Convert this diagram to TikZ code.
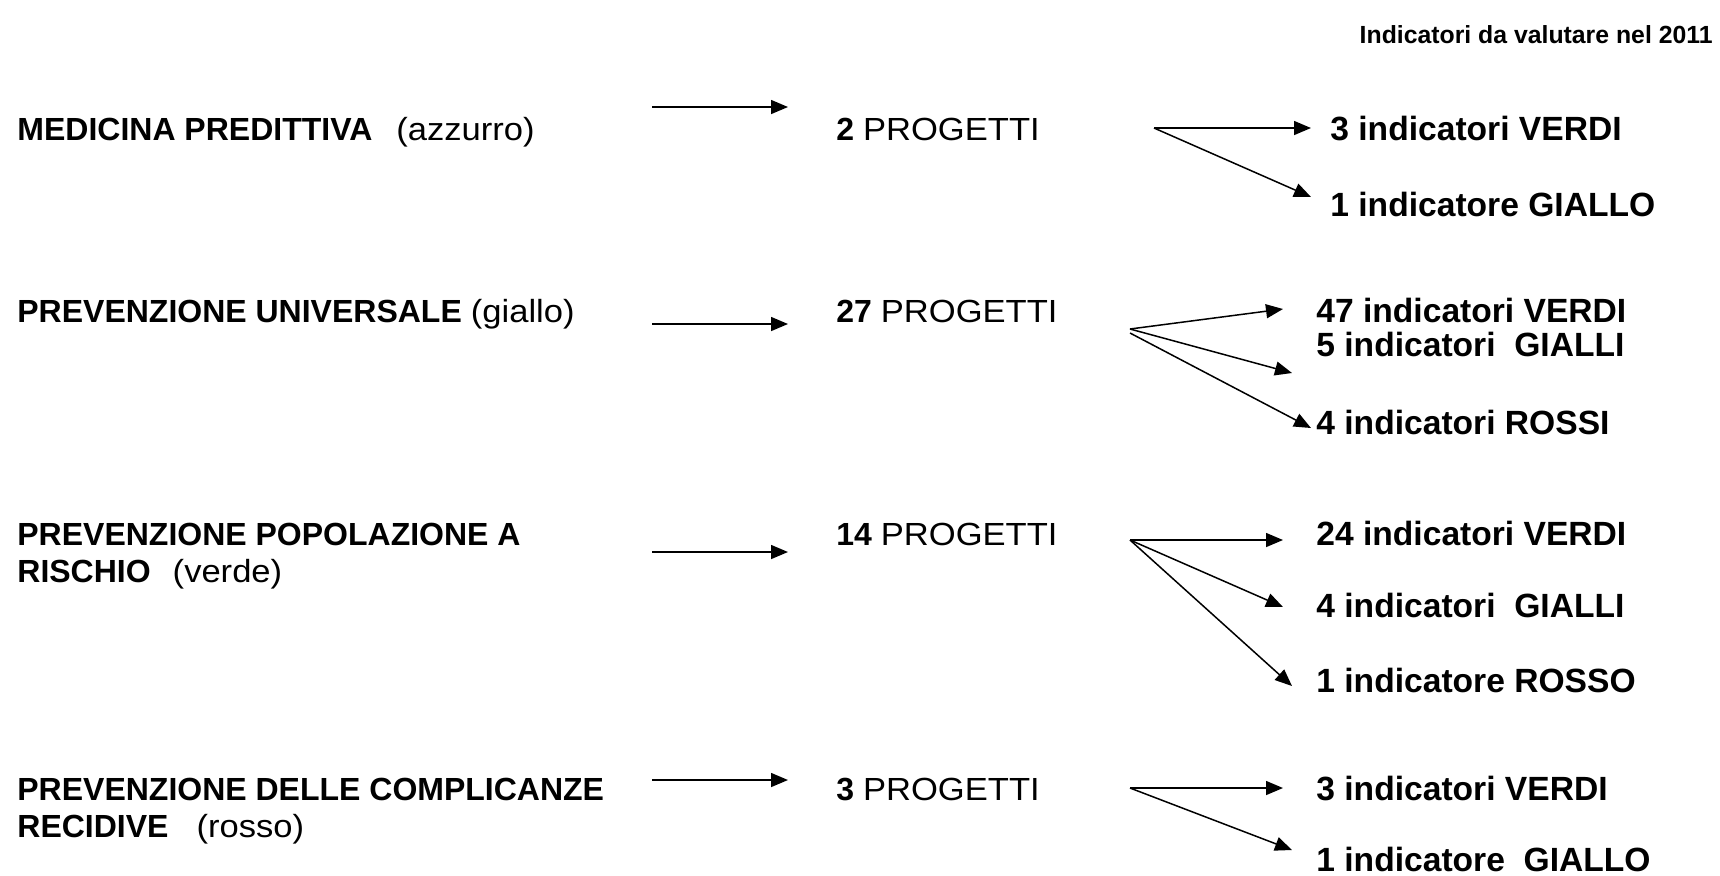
\documentclass[tikz,border=0pt]{standalone}
\usepackage{fontspec}
\setmainfont{Liberation Sans}
\newfontfamily\largo{Liberation Sans}[FakeStretch=1.08]
\usetikzlibrary{arrows.meta}

\tikzset{
  freccia/.style={line width=0.75pt,-{Triangle[length=8.5pt,width=7pt]}},
  testo/.style={anchor=base west,inner sep=0pt,font=\fontsize{16}{19}\selectfont},
  indic/.style={anchor=base west,inner sep=0pt,font=\fontsize{16.8}{20}\selectfont\bfseries},
}

\begin{document}
\begin{tikzpicture}[x=0.5pt,y=0.5pt,yscale=-1,xscale=1]
\useasboundingbox (0,0) rectangle (1720,875);

% Text Node
\node [anchor=base east,inner sep=0pt,font=\fontsize{12.4}{15}\selectfont\bfseries] (titolo) at (1713,43) {Indicatori da valutare nel 2011};

% Text Node
\node [testo] (medicina) at (17,140) {\textbf{MEDICINA PREDITTIVA}\hspace{12pt}{\largo (azzurro)}};
% Text Node
\node [testo] (universale) at (17,322) {\textbf{PREVENZIONE UNIVERSALE}\hspace{4.5pt}{\largo (giallo)}};
% Text Node
\node [testo] (popolazione) at (17,545) {\textbf{PREVENZIONE POPOLAZIONE A}};
\node [testo] (rischio) at (17,582) {\textbf{RISCHIO}\hspace{11pt}{\largo (verde)}};
% Text Node
\node [testo] (complicanze) at (17,800) {\textbf{PREVENZIONE DELLE COMPLICANZE}};
\node [testo] (recidive) at (17,837) {\textbf{RECIDIVE}\hspace{14pt}{\largo (rosso)}};

% Text Node
\node [testo] (prog2) at (836,140) {\textbf{2} \largo PROGETTI};
\node [testo] (prog27) at (836,322) {\textbf{27} \largo PROGETTI};
\node [testo] (prog14) at (836,545) {\textbf{14} \largo PROGETTI};
\node [testo] (prog3) at (836,800) {\textbf{3} \largo PROGETTI};

% Text Node
\node [indic] (verdiA) at (1330,140) {3 indicatori VERDI};
\node [indic] (gialloA) at (1330,216) {1 indicatore GIALLO};
% Text Node
\node [indic] (verdiB) at (1316,322) {47 indicatori VERDI};
\node [indic] (gialliB) at (1316,356) {5 indicatori\ \ GIALLI};
\node [indic] (rossiB) at (1316,434) {4 indicatori ROSSI};
% Text Node
\node [indic] (verdiC) at (1316,545) {24 indicatori VERDI};
\node [indic] (gialliC) at (1316,617) {4 indicatori\ \ GIALLI};
\node [indic] (rossoC) at (1316,692) {1 indicatore ROSSO};
% Text Node
\node [indic] (verdiD) at (1316,800) {3 indicatori VERDI};
\node [indic] (gialloD) at (1316,871) {1 indicatore\ \ GIALLO};

% Straight Lines
\coordinate (a1) at (652,107); \coordinate (b1) at (788,107);
\coordinate (a2) at (652,324); \coordinate (b2) at (788,324);
\coordinate (a3) at (652,552); \coordinate (b3) at (788,552);
\coordinate (a4) at (652,780); \coordinate (b4) at (788,780);
\foreach \i in {1,...,4} {
  \draw [freccia] (a\i) -- (b\i);
}

% Straight Lines
\coordinate (o1) at (1154,128);
\coordinate (t1v) at (1311,128); \coordinate (t1g) at (1311,197);
\draw [freccia] (o1) -- (t1v);
\draw [freccia] (o1) -- (t1g);

% Straight Lines
\coordinate (o2) at (1130,329); \coordinate (o2b) at (1130,333);
\coordinate (t2v) at (1283,309); \coordinate (t2g) at (1292,373); \coordinate (t2r) at (1311,428);
\draw [freccia] (o2) -- (t2v);
\draw [freccia] (o2) -- (t2g);
\draw [freccia] (o2b) -- (t2r);

% Straight Lines
\coordinate (o3) at (1130,540);
\coordinate (t3v) at (1283,540); \coordinate (t3g) at (1283,607); \coordinate (t3r) at (1292,686);
\draw [freccia] (o3) -- (t3v);
\draw [freccia] (o3) -- (t3g);
\draw [freccia] (o3) -- (t3r);

% Straight Lines
\coordinate (o4) at (1130,788);
\coordinate (t4v) at (1283,788); \coordinate (t4g) at (1292,850);
\draw [freccia] (o4) -- (t4v);
\draw [freccia] (o4) -- (t4g);

\end{tikzpicture}
\end{document}
